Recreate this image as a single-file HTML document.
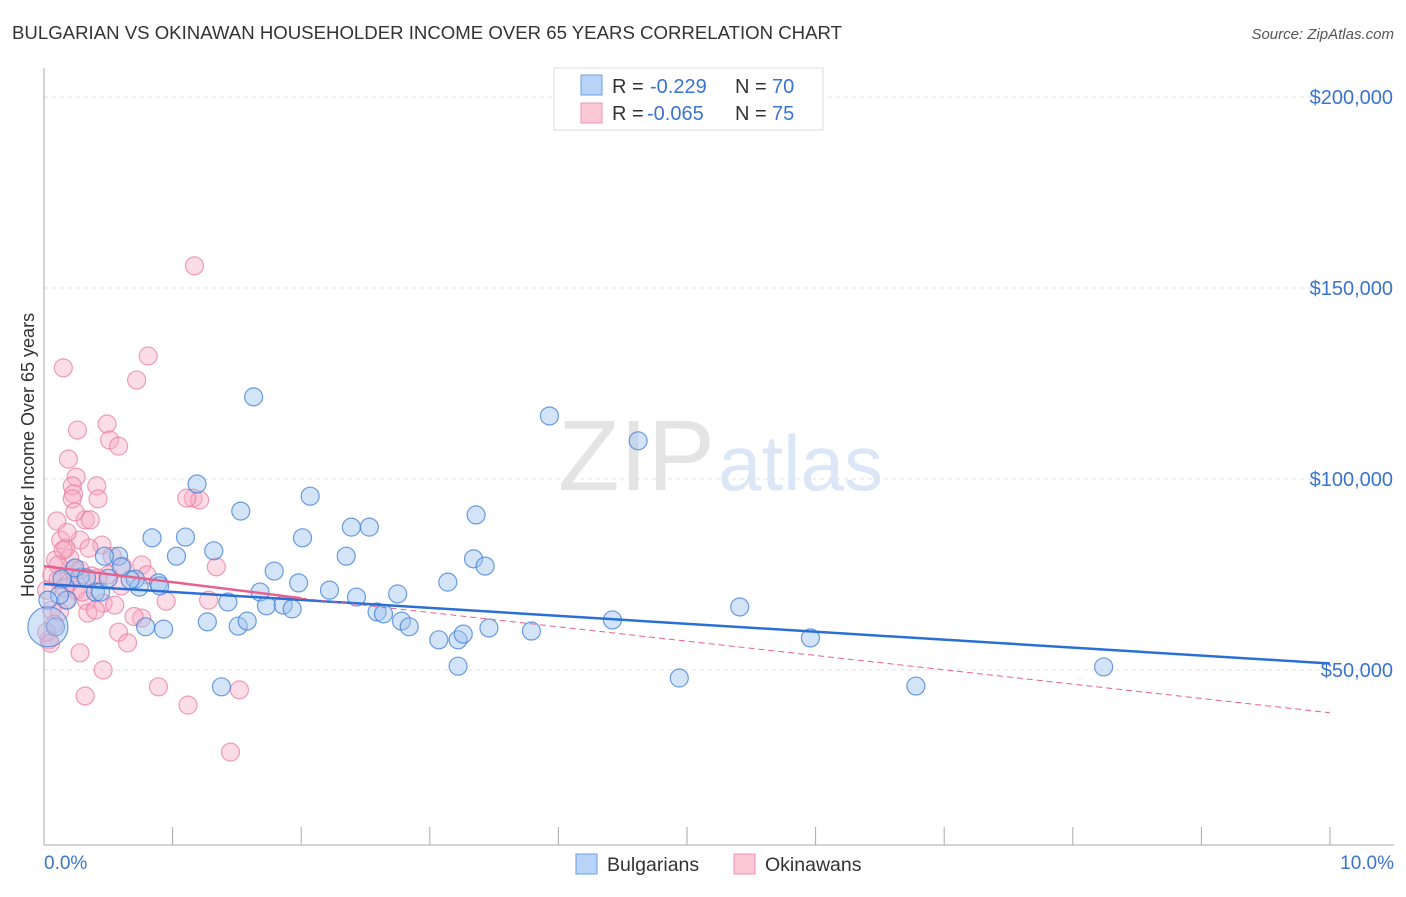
<!DOCTYPE html>
<html><head><meta charset="utf-8"><style>
body{margin:0;background:#fff;font-family:"Liberation Sans",sans-serif;}
svg text{font-family:"Liberation Sans",sans-serif;}
</style></head><body>
<svg id="chart" width="1406" height="892" xmlns="http://www.w3.org/2000/svg">
<text x="12" y="39" font-size="18.5" fill="#333" textLength="830" lengthAdjust="spacingAndGlyphs">BULGARIAN VS OKINAWAN HOUSEHOLDER INCOME OVER 65 YEARS CORRELATION CHART</text>
<text x="1394" y="39" font-size="15" fill="#555" text-anchor="end" font-style="italic">Source: ZipAtlas.com</text>
<g>
<text x="558" y="490" font-size="100" fill="#e4e4e4" font-family="Liberation Serif" textLength="157" lengthAdjust="spacingAndGlyphs">ZIP</text>
<text x="718" y="490" font-size="78" fill="#dbe7f6" textLength="165" lengthAdjust="spacingAndGlyphs">atlas</text>
</g>
<g id="grid"></g>
<g id="axes"></g>
<g id="pinkPts"></g>
<g id="bluePts"></g>
<g id="lines"></g>
<text transform="translate(34,455) rotate(-90)" font-size="18" fill="#333" text-anchor="middle">Householder Income Over 65 years</text>
<g>
<rect x="554" y="68" width="269" height="62" fill="#fff" stroke="#ddd"/>
<rect x="581" y="75" width="21" height="20" fill="#b8d3f5" stroke="#6d9fe0"/>
<rect x="581" y="103" width="21" height="20" fill="#fbc8d6" stroke="#ef92ad"/>
<text x="612" y="93" font-size="20" fill="#333">R =</text>
<text x="650" y="93" font-size="20" fill="#3a74d0">-0.229</text>
<text x="735" y="93" font-size="20" fill="#333">N =</text>
<text x="772" y="93" font-size="20" fill="#3a74d0">70</text>
<text x="612" y="120" font-size="20" fill="#333">R =</text>
<text x="647" y="120" font-size="20" fill="#3a74d0">-0.065</text>
<text x="735" y="120" font-size="20" fill="#333">N =</text>
<text x="772" y="120" font-size="20" fill="#3a74d0">75</text>
</g>
<g>
<rect x="576" y="854" width="21" height="20" fill="#b8d3f5" stroke="#6d9fe0"/>
<text x="607" y="871" font-size="19.5" fill="#333">Bulgarians</text>
<rect x="734" y="854" width="21" height="20" fill="#fbc8d6" stroke="#ef92ad"/>
<text x="765" y="871" font-size="19.5" fill="#333">Okinawans</text>
</g>
</svg>
<script>
const xTicks=[0,1,2,3,4,5,6,7,8,9,10];
const yTicks=[50000,100000,150000,200000];
const yTickLabels=["$50,000","$100,000","$150,000","$200,000"];
const blueX=[1.63,3.93,4.62,1.19,1.53,2.07,3.36,2.39,2.53,0.84,1.1,2.01,0.58,1.03,1.32,2.35,3.34,3.43,0.47,1.79,0.71,0.28,0.14,0.89,0.74,0.67,0.4,0.18,1.68,2.22,3.14,1.98,2.43,1.43,2.75,1.27,1.51,1.58,1.73,1.86,1.93,2.59,2.64,2.78,2.84,3.07,3.22,3.26,3.46,3.79,4.42,5.41,5.96,0.93,0.79,3.22,4.94,6.78,8.24,1.38,0.09,0.44,0.24,0.33,0.6,0.12,0.03,0.5,0.9,0.03];
const blueY=[121500,116500,110000,98700,91600,95500,90600,87400,87400,84600,84800,84600,79800,79800,81200,79800,79100,77200,79800,75900,73800,74300,73800,72800,71700,73600,70400,68300,70400,70900,73000,72800,69100,67800,69900,62600,61500,62800,66800,67000,66000,65200,64700,62800,61300,57900,57900,59400,61000,60200,63100,66500,58400,60700,61300,51000,47900,45800,50800,45600,61300,70400,76700,74100,77000,69600,68300,74000,72000,61300];
const pinkX=[1.17,0.81,0.15,0.72,0.49,0.26,0.51,0.58,0.19,0.25,0.22,0.41,0.23,0.22,0.42,1.16,1.21,1.11,0.1,0.32,0.36,0.24,0.13,0.28,0.45,0.17,0.35,0.09,0.2,0.11,0.28,0.5,0.61,0.06,0.11,0.2,0.25,0.16,0.02,0.17,0.33,0.46,0.06,0.55,0.76,0.8,1.34,1.28,0.34,0.4,0.58,0.76,0.65,0.28,0.46,0.04,0.02,0.89,0.32,1.12,1.52,1.45,0.15,0.23,0.37,0.12,0.42,0.53,0.3,0.05,0.08,0.6,0.7,0.95,0.18];
const pinkY=[155800,132200,129100,125900,114400,112800,110200,108600,105200,100500,98200,98200,96100,94800,94800,95000,94500,95000,89000,89300,89300,91400,84000,84000,82700,81900,81900,78800,79300,77500,76200,74900,77200,74900,73600,73000,70900,71500,70900,68300,68100,67500,65700,67000,77500,74900,77000,68300,64900,65700,59900,63600,57100,54500,50000,57900,59900,45600,43200,40800,44800,28500,81400,76200,74600,65200,74100,79800,70400,57000,62000,72000,64000,68000,86000];
const X0=44,X1=1330,PT=97,PB=670;
const xs=v=>X0+(v/10)*(X1-X0);
const ys=v=>PB-(v-50000)/150000*(PB-PT);
const NS="http://www.w3.org/2000/svg";
function mk(t,a,p){const e=document.createElementNS(NS,t);for(const k in a)e.setAttribute(k,a[k]);p.appendChild(e);return e;}
const grid=document.getElementById('grid'),axes=document.getElementById('axes');
yTicks.forEach((t,i)=>{
 const g=mk('line',{x1:44,x2:1394,y1:ys(t),y2:ys(t),stroke:'#e2e2e2','stroke-dasharray':'4,4'},grid);
 
 
 const tx=mk('text',{x:1393,y:ys(t)+7,'font-size':20,fill:'#3a74d0','text-anchor':'end'},axes);
 tx.textContent=yTickLabels[i];
 
 
});
mk('line',{x1:44,x2:44,y1:68,y2:845,stroke:'#aaa'},axes);
mk('line',{x1:44,x2:1394,y1:845,y2:845,stroke:'#aaa'},axes);
xTicks.forEach(t=>{const l=mk('line',{x1:xs(t),x2:xs(t),y1:827,y2:845,stroke:'#aaa'},axes);
 
 });
const t0=mk('text',{x:44,y:869,'font-size':19,fill:'#3a74d0'},axes);t0.textContent='0.0%';


const t1=mk('text',{x:1394,y:869,'font-size':19,fill:'#3a74d0','text-anchor':'end'},axes);t1.textContent='10.0%';


const pp=document.getElementById('pinkPts');
pinkX.forEach((x,i)=>{const c=mk('circle',{cx:xs(x),cy:ys(pinkY[i]),r:9,fill:'rgba(248,170,195,0.4)',stroke:'rgba(232,120,155,0.7)','stroke-width':1.2},pp);
 
 });
const bp=document.getElementById('bluePts');
blueX.forEach((x,i)=>{const c=mk('circle',{cx:xs(x),cy:ys(blueY[i]),r:i==blueX.length-1?20:9,fill:'rgba(160,195,240,0.45)',stroke:'rgba(60,125,215,0.75)','stroke-width':1.2},bp);
 
 });
const ln=document.getElementById('lines');
const bl=mk('line',{x1:xs(0),y1:ys(72500),x2:xs(10),y2:ys(51700),stroke:'#2a6fd6','stroke-width':2.5},ln);


const pl=mk('line',{x1:xs(0),y1:ys(77200),x2:xs(2),y2:ys(68800),stroke:'#e8608d','stroke-width':2.5},ln);


const pd=mk('line',{x1:xs(2),y1:ys(68800),x2:xs(10),y2:ys(38800),stroke:'#e8608d','stroke-width':1,'stroke-dasharray':'6,4'},ln);


</script>
</body></html>
